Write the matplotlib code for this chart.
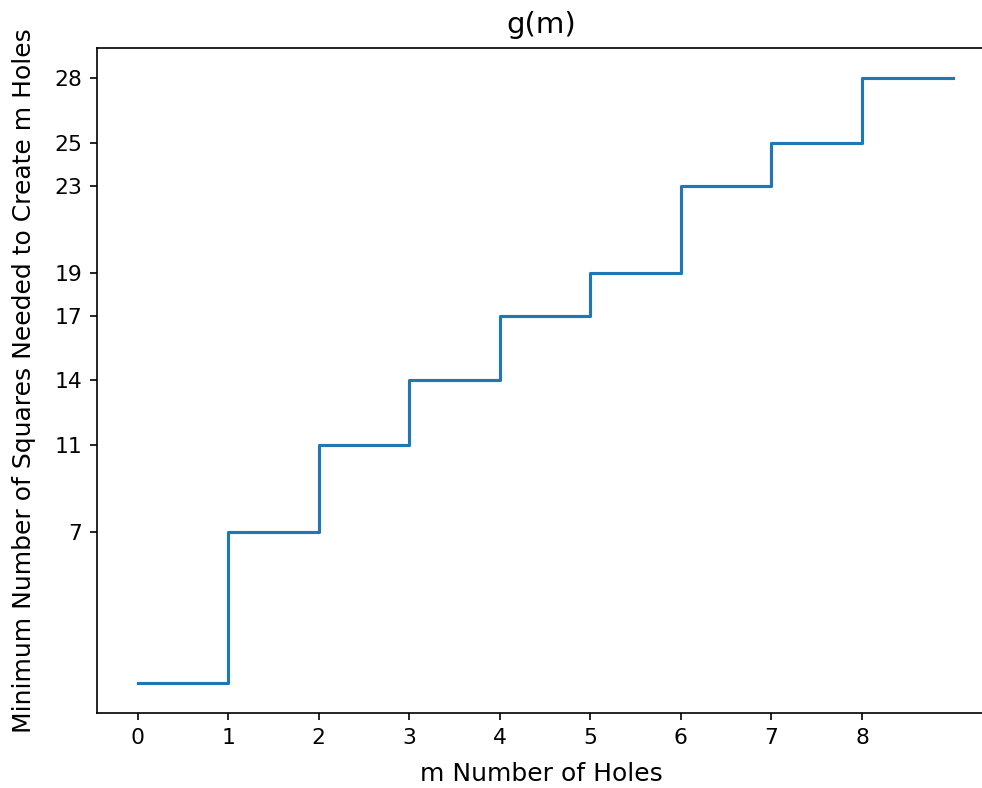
import matplotlib
matplotlib.use("Agg")
import matplotlib.pyplot as plt

m_values = list(range(10))
g_values = [0, 7, 11, 14, 17, 19, 23, 25, 28, 28]
x_ticks = list(range(9))
y_ticks = [7, 11, 14, 17, 19, 23, 25, 28]

fig = plt.figure(figsize=(9.82/1.5, 7.88/1.5), dpi=150)
ax = fig.add_axes([97/982, 1-713/788, (986-97)/982, (713-48)/788])
ax.step(m_values, g_values, where='post', color='#1f77b4', linewidth=1.5)
ax.set_xticks(x_ticks)
ax.set_yticks(y_ticks)
ax.tick_params(labelsize=10.5)
ax.set_xlim(-0.45, 9.37)
ax.set_ylim(-1.4, 29.4)
ax.set_title("g(m)", fontsize=14, pad=7)
ax.set_xlabel("m Number of Holes", fontsize=12, labelpad=7)
ax.set_ylabel("Minimum Number of Squares Needed to Create m Holes", fontsize=12, labelpad=9)
fig.savefig("out.png", dpi=150)
